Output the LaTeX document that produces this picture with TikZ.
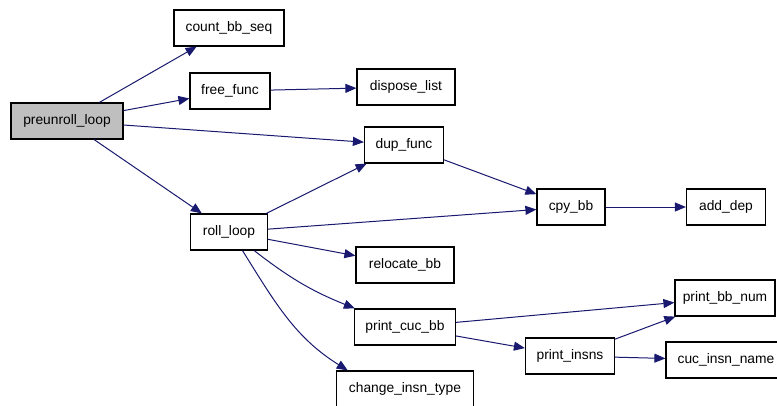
\documentclass[tikz,border=0pt]{standalone}
\usepackage{fontspec}
\setmainfont{Liberation Sans}
\usetikzlibrary{arrows.meta}

\begin{document}
\begin{tikzpicture}[x=1pt,y=-1pt,
  fn/.style={draw=black,line width=1.2pt,minimum height=36pt,inner sep=0pt,
    font=\fontsize{13.8}{16}\selectfont},
  call/.style={draw=callBlue,line width=1pt,-{Triangle[length=11pt,width=9pt]}}]
\definecolor{callBlue}{HTML}{191970}
\definecolor{rootFill}{HTML}{BFBFBF}
\useasboundingbox (0,0) rectangle (777,405);
\fill[white] (0,0) rectangle (777,405);
\node[fn,fill=rootFill,minimum width=112pt] (preunroll) at (67,121) {preunroll\_loop};
\foreach \nm/\x/\y/\w/\lab in {
  countbb/229/28/110/count\_bb\_seq,
  freefunc/230/91/80/free\_func,
  disposelist/406/87/98/dispose\_list,
  dupfunc/404/145/79/dup\_func,
  cpybb/571/207/68/cpy\_bb,
  adddep/726/207/79/add\_dep,
  rollloop/229/232/77/roll\_loop,
  relocatebb/405/265/98/relocate\_bb,
  printcucbb/405/327/101/print\_cuc\_bb,
  printinsns/570/356/89/print\_insns,
  printbbnum/725/298/100/print\_bb\_num,
  cucinsnname/726/360/120/cuc\_insn\_name,
  changeinsn/405/389/137/change\_insn\_type} {
  \node[fn,minimum width=\w pt] (\nm) at (\x,\y) {\lab};
}
\draw[call] (preunroll) -- (countbb);
\draw[call] (preunroll) -- (freefunc);
\draw[call] (freefunc) -- (disposelist);
\draw[call] (preunroll) -- (dupfunc);
\draw[call] (preunroll) -- (rollloop);
\draw[call] (rollloop) -- (dupfunc);
\draw[call] (rollloop) -- (cpybb);
\draw[call] (dupfunc) -- (cpybb);
\draw[call] (cpybb) -- (adddep);
\draw[call] (rollloop) -- (relocatebb);
\draw[call] (rollloop) to[bend right=8] (printcucbb);
\draw[call] (rollloop.-54) to[out=-58,in=148] (changeinsn.162);
\draw[call] (printcucbb) -- (printbbnum);
\draw[call] (printcucbb) -- (printinsns);
\draw[call] (printinsns) -- (printbbnum);
\draw[call] (printinsns) -- (cucinsnname);
\end{tikzpicture}
\end{document}
